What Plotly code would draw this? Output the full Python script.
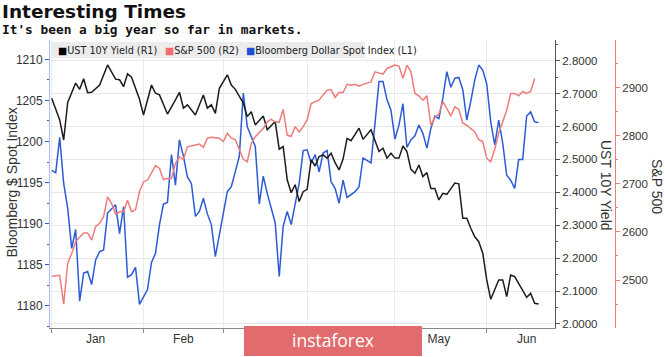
import plotly.graph_objects as go

# ---------------- data ----------------
ust_dates = ["2019-01-01","2019-01-03","2019-01-04","2019-01-07","2019-01-09","2019-01-10","2019-01-11","2019-01-14","2019-01-15","2019-01-17",
             "2019-01-21","2019-01-23","2019-01-24","2019-01-25","2019-01-28","2019-01-29","2019-01-31","2019-02-01","2019-02-05","2019-02-06",
             "2019-02-07","2019-02-11","2019-02-13","2019-02-14","2019-02-15","2019-02-18","2019-02-20","2019-02-22","2019-02-25","2019-02-26",
             "2019-02-27","2019-02-28","2019-03-04","2019-03-05","2019-03-06","2019-03-08","2019-03-11","2019-03-12","2019-03-13","2019-03-14",
             "2019-03-15","2019-03-18","2019-03-20","2019-03-21","2019-03-22","2019-03-25","2019-03-26","2019-03-27","2019-03-28","2019-03-29",
             "2019-04-01","2019-04-02","2019-04-03","2019-04-04","2019-04-05","2019-04-08","2019-04-09","2019-04-10","2019-04-11","2019-04-12",
             "2019-04-15","2019-04-16","2019-04-18","2019-04-19","2019-04-23","2019-04-25","2019-04-26","2019-04-29","2019-04-30","2019-05-01",
             "2019-05-02","2019-05-03","2019-05-06","2019-05-07","2019-05-08","2019-05-09","2019-05-10","2019-05-13","2019-05-14","2019-05-15",
             "2019-05-16","2019-05-17","2019-05-20","2019-05-22","2019-05-23","2019-05-24","2019-05-27","2019-05-28","2019-05-29","2019-05-30",
             "2019-05-31","2019-06-03","2019-06-04","2019-06-06","2019-06-07","2019-06-10","2019-06-11","2019-06-12","2019-06-14","2019-06-17",
             "2019-06-18","2019-06-19","2019-06-20"]
ust_values = [2.686,2.620,2.559,2.673,2.732,2.713,2.745,2.703,2.704,2.726,
              2.787,2.744,2.742,2.721,2.760,2.750,2.683,2.635,2.726,2.701,
              2.696,2.638,2.681,2.704,2.656,2.666,2.635,2.696,2.656,2.666,
              2.640,2.716,2.757,2.726,2.713,2.671,2.630,2.645,2.605,2.620,
              2.632,2.590,2.615,2.531,2.539,2.438,2.399,2.423,2.372,2.402,
              2.409,2.499,2.480,2.509,2.514,2.504,2.519,2.490,2.468,2.501,
              2.564,2.557,2.595,2.561,2.590,2.524,2.534,2.504,2.519,2.504,
              2.504,2.541,2.524,2.470,2.458,2.483,2.448,2.460,2.412,2.412,
              2.377,2.397,2.394,2.428,2.426,2.321,2.321,2.291,2.265,2.250,
              2.215,2.134,2.075,2.134,2.134,2.083,2.149,2.144,2.103,2.081,
              2.093,2.063,2.061]

spx_dates = ["2019-01-01","2019-01-03","2019-01-04","2019-01-07","2019-01-08","2019-01-09","2019-01-11","2019-01-14","2019-01-15","2019-01-16",
             "2019-01-17","2019-01-18","2019-01-21","2019-01-22","2019-01-23","2019-01-24","2019-01-25","2019-01-28","2019-01-29","2019-01-30",
             "2019-01-31","2019-02-01","2019-02-04","2019-02-05","2019-02-06","2019-02-07","2019-02-08","2019-02-11","2019-02-12","2019-02-13",
             "2019-02-14","2019-02-15","2019-02-18","2019-02-20","2019-02-21","2019-02-22","2019-02-25","2019-02-26","2019-02-28","2019-03-01",
             "2019-03-04","2019-03-05","2019-03-06","2019-03-07","2019-03-08","2019-03-11","2019-03-12","2019-03-13","2019-03-15","2019-03-18",
             "2019-03-19","2019-03-20","2019-03-21","2019-03-22","2019-03-25","2019-03-26","2019-03-27","2019-03-28","2019-03-29","2019-04-01",
             "2019-04-02","2019-04-03","2019-04-04","2019-04-05","2019-04-08","2019-04-09","2019-04-10","2019-04-11","2019-04-12","2019-04-15",
             "2019-04-16","2019-04-17","2019-04-18","2019-04-19","2019-04-22","2019-04-23","2019-04-24","2019-04-25","2019-04-26","2019-04-29",
             "2019-04-30","2019-05-01","2019-05-02","2019-05-03","2019-05-06","2019-05-07","2019-05-08","2019-05-09","2019-05-10","2019-05-13",
             "2019-05-14","2019-05-15","2019-05-16","2019-05-17","2019-05-20","2019-05-21","2019-05-22","2019-05-23","2019-05-24","2019-05-27",
             "2019-05-29","2019-05-30","2019-05-31","2019-06-03","2019-06-04","2019-06-05","2019-06-06","2019-06-07","2019-06-10","2019-06-11",
             "2019-06-12","2019-06-13","2019-06-14","2019-06-17","2019-06-18","2019-06-19"]
spx_values = [2508,2510,2450,2535,2555,2580,2598,2598,2583,2611,
              2618,2632,2673,2659,2637,2642,2642,2666,2642,2646,
              2684,2704,2708,2722,2738,2732,2709,2711,2711,2743,
              2756,2751,2777,2781,2783,2776,2795,2797,2795,2788,
              2805,2795,2792,2772,2751,2746,2784,2798,2815,2829,
              2834,2829,2828,2855,2801,2799,2819,2808,2819,2833,
              2867,2871,2874,2885,2895,2896,2880,2890,2890,2907,
              2905,2907,2903,2907,2909,2912,2933,2930,2928,2940,
              2944,2947,2945,2919,2947,2933,2888,2883,2874,2883,
              2822,2838,2845,2871,2857,2841,2860,2855,2826,2822,
              2808,2792,2788,2753,2746,2772,2806,2829,2853,2888,
              2888,2883,2892,2888,2892,2919]

dxy_dates = ["2019-01-01","2019-01-02","2019-01-03","2019-01-04","2019-01-07","2019-01-08","2019-01-09","2019-01-10","2019-01-11","2019-01-14",
             "2019-01-15","2019-01-16","2019-01-17","2019-01-18","2019-01-21","2019-01-23","2019-01-24","2019-01-25","2019-01-28","2019-01-29",
             "2019-01-30","2019-01-31","2019-02-01","2019-02-04","2019-02-05","2019-02-06","2019-02-07","2019-02-08","2019-02-11","2019-02-12",
             "2019-02-13","2019-02-14","2019-02-15","2019-02-18","2019-02-19","2019-02-20","2019-02-21","2019-02-22","2019-02-25","2019-02-26",
             "2019-02-27","2019-02-28","2019-03-04","2019-03-05","2019-03-07","2019-03-08","2019-03-11","2019-03-13","2019-03-14","2019-03-15",
             "2019-03-18","2019-03-20","2019-03-21","2019-03-22","2019-03-25","2019-03-26","2019-03-27","2019-03-28","2019-03-29","2019-04-01",
             "2019-04-02","2019-04-03","2019-04-04","2019-04-05","2019-04-08","2019-04-09","2019-04-10","2019-04-11","2019-04-12","2019-04-15",
             "2019-04-17","2019-04-18","2019-04-19","2019-04-23","2019-04-24","2019-04-25","2019-04-26","2019-04-29","2019-04-30","2019-05-01",
             "2019-05-02","2019-05-03","2019-05-06","2019-05-07","2019-05-08","2019-05-09","2019-05-10","2019-05-13","2019-05-14","2019-05-15",
             "2019-05-16","2019-05-17","2019-05-20","2019-05-21","2019-05-22","2019-05-23","2019-05-24","2019-05-27","2019-05-28","2019-05-29",
             "2019-05-30","2019-05-31","2019-06-03","2019-06-04","2019-06-05","2019-06-06","2019-06-07","2019-06-10","2019-06-11","2019-06-12",
             "2019-06-13","2019-06-14","2019-06-17","2019-06-18","2019-06-19","2019-06-20"]
dxy_values = [1196.5,1196.2,1200.5,1194.9,1191.9,1187.0,1189.3,1180.6,1184.0,1184.2,
              1182.6,1185.6,1186.6,1186.8,1191.3,1192.3,1188.8,1192.1,1183.5,1183.8,
              1184.7,1180.2,1181.1,1182.0,1185.3,1186.4,1189.9,1192.4,1192.6,1198.4,
              1194.7,1200.2,1198.2,1195.7,1194.9,1190.9,1191.5,1193.1,1191.2,1189.9,
              1186.0,1188.8,1193.9,1194.5,1198.2,1205.9,1201.8,1199.4,1192.4,1195.8,
              1193.7,1190.1,1183.6,1189.7,1191.5,1189.9,1192.5,1194.9,1198.9,1199.0,
              1197.4,1198.4,1196.3,1198.6,1198.9,1195.1,1194.3,1192.5,1195.3,1193.2,
              1193.9,1194.5,1198.0,1197.4,1202.2,1207.3,1207.3,1205.1,1203.8,1200.3,
              1202.0,1204.6,1199.3,1200.2,1200.7,1202.0,1201.0,1199.2,1201.6,1203.1,
              1202.8,1205.3,1208.5,1206.6,1207.7,1207.8,1206.3,1202.6,1204.9,1207.5,
              1209.3,1208.7,1207.0,1202.4,1199.6,1202.6,1199.8,1195.9,1195.3,1194.3,
              1197.8,1197.8,1203.1,1203.6,1202.4,1202.3]

month_labels = ["Jan", "Feb", "Mar", "Apr", "May", "Jun"]
month_label_dates = ["2019-01-16", "2019-02-15", "2019-03-15", "2019-04-16", "2019-05-16", "2019-06-17"]
month_start_dates = ["2019-01-01", "2019-02-01", "2019-03-01", "2019-04-01", "2019-05-01", "2019-06-03"]

series_names = ["UST 10Y Yield (R1)", "S&P 500 (R2)", "Bloomberg Dollar Spot Index (L1)"]

# ---------------- styling ----------------
W, H = 665, 357
ML, MR, MT, MB = 50, 50, 40, 29
PW, PH = W - ML - MR, H - MT - MB

def px(xp):
    return (xp - ML) / PW

def py(yp):
    return (H - MB - yp) / PH

BLACK = "#1c1c1c"
RED = "#ef7b7b"
BLUE = "#2d5bd6"
TXT = "#333333"
TICKFONT = dict(family="Liberation Sans", size=11.5, color=TXT)

fig = go.Figure()
fig.add_trace(go.Scatter(x=dxy_dates, y=dxy_values, mode="lines", yaxis="y",
                         line=dict(color=BLUE, width=1.5), name=series_names[2], showlegend=False))
fig.add_trace(go.Scatter(x=ust_dates, y=ust_values, mode="lines", yaxis="y2",
                         line=dict(color=BLACK, width=1.5), name=series_names[0], showlegend=False))
fig.add_trace(go.Scatter(x=spx_dates, y=spx_values, mode="lines", yaxis="y3",
                         line=dict(color=RED, width=1.5), name=series_names[1], showlegend=False))

fig.update_layout(
    width=W, height=H, autosize=False,
    margin=dict(l=ML, r=MR, t=MT, b=MB, autoexpand=False),
    paper_bgcolor="white", plot_bgcolor="white",
    showlegend=False,
    xaxis=dict(
        domain=[0, (555 - ML) / PW], automargin=False,
        type="date",
        range=["2018-12-31 13:40", "2019-06-26 02:24"],
        rangebreaks=[dict(bounds=["sat", "mon"])],
        tickmode="array", tickvals=month_label_dates, ticktext=month_labels,
        ticks="", showgrid=False, zeroline=False,
        showline=True, linecolor="#8a8a8a", linewidth=1,
        tickfont=dict(family="Liberation Sans", size=12, color=TXT),
        minor=dict(tickmode="array", tickvals=month_start_dates, ticks="outside",
                   ticklen=4, tickcolor="#8a8a8a", showgrid=True, gridcolor="#ebebeb"),
    ),
    yaxis=dict(
        automargin=False,
        range=[1177.32, 1212.35], tickmode="linear", tick0=1180, dtick=5,
        ticks="outside", ticklen=4, tickcolor=BLUE,
        showline=True, linecolor="#a9bbf0", linewidth=1,
        showgrid=False, zeroline=False, tickfont=dict(family="Liberation Sans", size=12, color=TXT),
        minor=dict(dtick=2.5, ticks="outside", ticklen=2, tickcolor=BLUE, showgrid=False),
    ),
    yaxis2=dict(
        automargin=False,
        overlaying="y", side="right", anchor="x",
        range=[1.9878, 2.8629], tickmode="linear", tick0=2.0, dtick=0.1, tickformat=".4f",
        ticks="outside", ticklen=4, tickcolor="#555555",
        showline=True, linecolor="#555555", linewidth=1,
        showgrid=True, gridcolor="#e6e6e6", zeroline=False, tickfont=TICKFONT,
        minor=dict(dtick=0.05, ticks="outside", ticklen=2, tickcolor="#555555", showgrid=False),
    ),
    yaxis3=dict(
        automargin=False,
        overlaying="y", side="right", anchor="free", position=1.0,
        range=[2400.2, 2999.2], tickmode="linear", tick0=2500, dtick=100,
        ticks="outside", ticklen=4, tickcolor=RED,
        showline=True, linecolor=RED, linewidth=1,
        showgrid=False, zeroline=False, tickfont=TICKFONT,
        minor=dict(dtick=50, ticks="outside", ticklen=2, tickcolor=RED, showgrid=False),
    ),
)

shapes = [
    dict(type="rect", xref="paper", yref="paper", x0=px(52), x1=px(365), y0=py(58), y1=py(42),
         fillcolor="#ececec", line=dict(width=0), layer="above"),
    dict(type="rect", xref="paper", yref="paper", x0=px(244), x1=px(422), y0=py(356), y1=py(326),
         fillcolor="#e26b6e", line=dict(width=0), layer="above"),
]
fig.update_layout(shapes=shapes)

LEG = dict(family="DejaVu Sans", size=9.7, color="#222222")
legend_colors = ["#000000", "#f26b6b", "#1f4fd8"]
legend_x = [56, 163, 244]
ann = []
for name, col, xp in zip(series_names, legend_colors, legend_x):
    ann.append(dict(xref="paper", yref="paper", x=px(xp), y=py(50), xanchor="left", yanchor="middle",
                    text=f"<span style='color:{col}'>■</span>{name}", showarrow=False, font=LEG))

ann += [
    dict(xref="paper", yref="paper", x=px(0), y=py(11), xanchor="left", yanchor="middle",
         text="Interesting Times", showarrow=False,
         font=dict(family="DejaVu Sans", size=18.5, color="#111111", weight="bold")),
    dict(xref="paper", yref="paper", x=px(0), y=py(29), xanchor="left", yanchor="middle",
         text="It's been a big year so far in markets.", showarrow=False,
         font=dict(family="DejaVu Sans Mono", size=12.8, color="#111111", weight="bold")),
    dict(xref="paper", yref="paper", x=px(11.5), y=py(183), xanchor="center", yanchor="middle",
         text="Bloomberg $ Spot Index", textangle=-90, showarrow=False,
         font=dict(family="Liberation Sans", size=14, color=TXT)),
    dict(xref="paper", yref="paper", x=px(606), y=py(185), xanchor="center", yanchor="middle",
         text="UST 10Y Yield", textangle=90, showarrow=False,
         font=dict(family="Liberation Sans", size=14, color=TXT)),
    dict(xref="paper", yref="paper", x=px(657), y=py(186), xanchor="center", yanchor="middle",
         text="S&P 500", textangle=90, showarrow=False,
         font=dict(family="Liberation Sans", size=14, color=TXT)),
    dict(xref="paper", yref="paper", x=px(333), y=py(340), xanchor="center", yanchor="middle",
         text="instaforex", showarrow=False,
         font=dict(family="Open Sans", size=17.5, color="white")),
]
fig.update_layout(annotations=ann)

fig.write_html("out.html", config={"displayModeBar": False},
               post_script="document.body.style.margin='0px';")
